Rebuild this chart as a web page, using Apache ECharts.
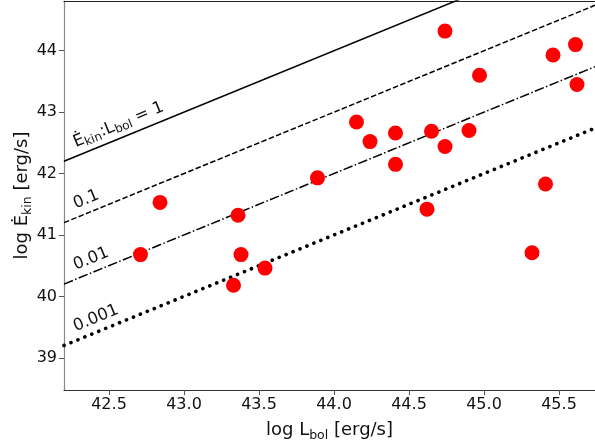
<!DOCTYPE html>
<html>
<head>
<meta charset="utf-8">
<script src="https://cdn.jsdelivr.net/npm/echarts@6/dist/echarts.min.js"></script>
<style>html,body{margin:0;padding:0;background:#fff}#c{width:595px;height:445px}</style>
</head>
<body>
<div id="c"></div>
<script>
// Data
var logLbol = [44.74, 45.61, 45.46, 44.97, 45.62, 44.15, 44.24, 44.41, 44.65, 44.90, 44.74, 44.41, 43.89, 45.41, 44.62, 42.84, 43.36, 42.71, 43.38, 43.54, 43.33, 45.32];
var logEkin = [44.32, 44.10, 43.93, 43.60, 43.45, 42.84, 42.52, 42.66, 42.69, 42.70, 42.44, 42.15, 41.93, 41.83, 41.42, 41.53, 41.32, 40.68, 40.68, 40.46, 40.18, 40.71];
var ratioLogs = [0, -1, -2, -3];
var ratioLabels = ['1', '0.1', '0.01', '0.001'];
var lineTypes = ['solid', 'dashed', 'dashdot', 'dotted'];
var xRange = [42.2, 45.74];
var yRange = [38.475, 44.81];
var xTicks = [42.5, 43.0, 43.5, 44.0, 44.5, 45.0, 45.5];
var yTicks = [39, 40, 41, 42, 43, 44];

var styleMap = {
  solid:   {type: 'solid', width: 1.5},
  dashed:  {type: [5.5, 2.4], width: 1.5},
  dashdot: {type: [9.6, 2.4, 1.5, 2.4], width: 1.5},
  dotted:  {type: [0.1, 7.4], width: 3.6, cap: 'round'}
};

var chart = echarts.init(document.getElementById('c'), null, {renderer: 'canvas'});
var FONT = 'DejaVu Sans';

var series = [];
ratioLogs.forEach(function (r, i) {
  var st = styleMap[lineTypes[i]];
  series.push({
    type: 'line',
    xAxisIndex: 0, yAxisIndex: 0,
    data: xRange.map(function (x) { return [x, x + r]; }),
    symbol: 'none',
    clip: true,
    silent: true,
    lineStyle: {color: '#000', width: st.width, type: st.type, cap: st.cap || 'butt'},
    z: 2
  });
});
series.push({
  type: 'scatter',
  xAxisIndex: 0, yAxisIndex: 0,
  data: logLbol.map(function (x, i) { return [x, logEkin[i]]; }),
  symbol: 'circle',
  symbolSize: 15,
  itemStyle: {color: '#ff0000', opacity: 1},
  z: 5
});

var subRich = {sub: {fontFamily: FONT, fontSize: 12.5, lineHeight: 12, verticalAlign: 'bottom', color: '#111'}};

chart.setOption({
  animation: false,
  backgroundColor: '#fff',
  grid: {left: 64, right: 0, top: 1, bottom: 55, containLabel: false, outerBoundsMode: 'none'},
  xAxis: [{
    type: 'value', min: xRange[0], max: xRange[1],
    position: 'bottom',
    name: 'log L{sub|bol} [erg/s]',
    nameLocation: 'middle', nameGap: 28,
    nameTextStyle: {fontFamily: FONT, fontSize: 18, color: '#111', lineHeight: 24, rich: subRich},
    axisLine: {show: true, onZero: false, lineStyle: {color: '#333', width: 1.2}},
    axisTick: {show: true, length: 5, inside: false, customValues: xTicks, lineStyle: {color: '#555', width: 1}},
    axisLabel: {customValues: xTicks, fontFamily: FONT, fontSize: 16, color: '#111', margin: 7,
      formatter: function (v) { return Number(v).toFixed(1); }},
    splitLine: {show: false}
  }, {
    type: 'value', min: xRange[0], max: xRange[1],
    position: 'top',
    axisLine: {show: true, onZero: false, lineStyle: {color: '#222', width: 1.2}},
    axisTick: {show: false}, axisLabel: {show: false}, splitLine: {show: false}
  }],
  yAxis: [{
    type: 'value', min: yRange[0], max: yRange[1],
    name: 'log E\u0307{sub|kin} [erg/s]',
    nameLocation: 'middle', nameGap: 30, nameRotate: 90,
    nameMoveOverlap: false,
    nameTextStyle: {fontFamily: FONT, fontSize: 18, color: '#111', lineHeight: 24, rich: subRich},
    axisLine: {show: true, onZero: false, lineStyle: {color: '#888', width: 1.2}},
    axisTick: {show: true, length: 5, customValues: yTicks, lineStyle: {color: '#555', width: 1}},
    axisLabel: {customValues: yTicks, fontFamily: FONT, fontSize: 16, color: '#111', margin: 7,
      formatter: function (v) { return String(Math.round(v)); }},
    splitLine: {show: false}
  }],
  series: series
});

// Labels along each ratio line
var labelX = 42.3;
var p1 = chart.convertToPixel({xAxisIndex: 0, yAxisIndex: 0}, [xRange[0], xRange[0]]);
var p2 = chart.convertToPixel({xAxisIndex: 0, yAxisIndex: 0}, [xRange[1], xRange[1]]);
var ang = Math.atan2(-(p2[1] - p1[1]), p2[0] - p1[0]);
var gap = 3;
var graphics = ratioLogs.map(function (r, i) {
  var p = chart.convertToPixel({xAxisIndex: 0, yAxisIndex: 0}, [labelX, labelX + r]);
  var ax = p[0] - gap * Math.sin(ang);
  var ay = p[1] - gap * Math.cos(ang);
  var txt = i === 0 ? '{m|E\u0307}{s|kin}{m|:L}{s|bol}{m| = ' + ratioLabels[i] + '}' : '{m|' + ratioLabels[i] + '}';
  return {
    type: 'text',
    x: ax, y: ay,
    rotation: ang,
    z: 10,
    style: {
      text: txt,
      align: 'left',
      verticalAlign: 'bottom',
      fill: '#111',
      rich: {
        m: {fontFamily: FONT, fontSize: 16.5, lineHeight: 20, fill: '#111', color: '#111'},
        s: {fontFamily: FONT, fontSize: 12, lineHeight: 11, verticalAlign: 'bottom', fill: '#111', color: '#111'}
      }
    }
  };
});
chart.setOption({graphic: graphics});
</script>
</body>
</html>
